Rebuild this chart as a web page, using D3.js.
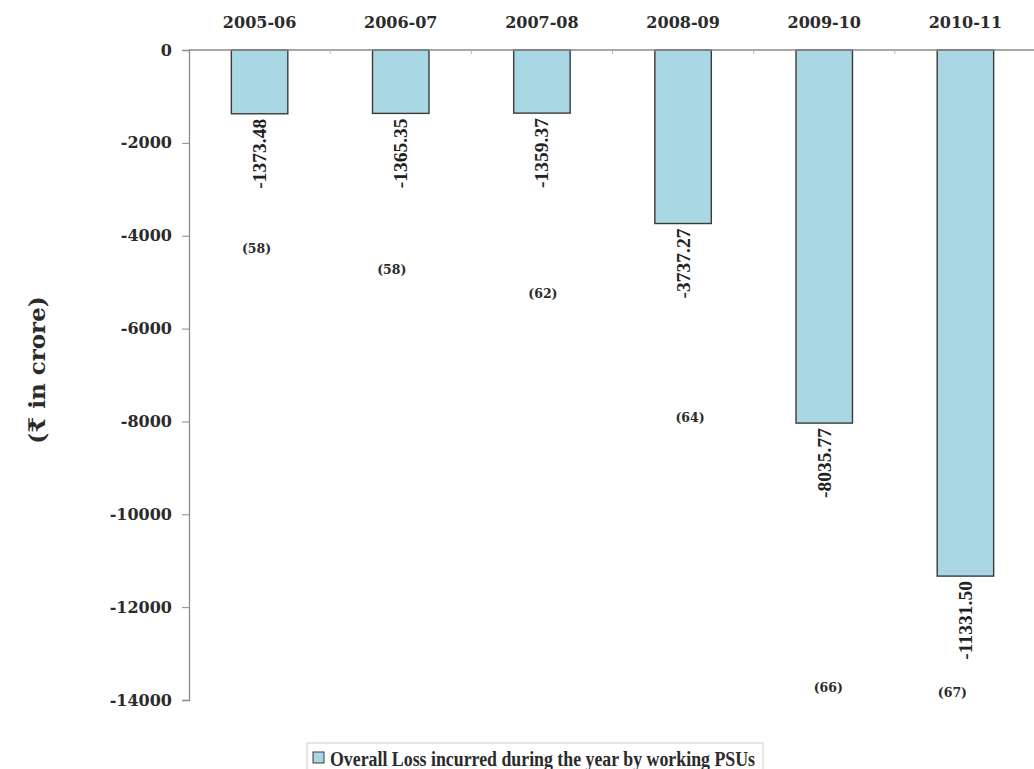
<!DOCTYPE html>
<html>
<head>
<meta charset="utf-8">
<script src="https://cdn.jsdelivr.net/npm/d3@7"></script>
<style>
  html, body { margin: 0; padding: 0; background: #fff; }
  svg { display: block; }
</style>
</head>
<body>
<svg id="chart" width="1034" height="769"></svg>
<script>
// Overall loss of working PSUs by year (₹ in crore)
const years = ["2005-06", "2006-07", "2007-08", "2008-09", "2009-10", "2010-11"];
const losses = [-1373.48, -1365.35, -1359.37, -3737.27, -8035.77, -11331.50];
const psuCounts = [58, 58, 62, 64, 66, 67];
const yTicks = [0, -2000, -4000, -6000, -8000, -10000, -12000, -14000];
const legendLabel = "Overall Loss incurred during the year by working PSUs";
const yTitle = "(₹ in crore)";

// Where each PSU count note sits: depth on the value axis and a small horizontal nudge
const countNoteDepth = [-4286, -4738, -5255, -7926, -13741, -13849];
const countNoteNudge = [-3, -9, 1, 7, 4, -13];

const W = 1034, H = 769;
const plotLeft = 189, plotRight = 1036, plotTop = 50, plotBottom = 700;
const barFill = "#aad7e4";
const axisColor = "#8a8a8a";
const textColor = "#2b2b2b";
const boldSerif = "'DejaVu Serif', serif";
const plainSerif = "'Liberation Serif', 'Times New Roman', serif";

const svg = d3.select("#chart");

const x = d3.scaleBand().domain(years).range([plotLeft, plotRight])
  .paddingInner(0.6).paddingOuter(0.3);
const y = d3.scaleLinear().domain([0, -14000]).range([plotTop, plotBottom]);

// Bars hang down from the zero line
svg.append("g").selectAll("rect")
  .data(years.map((yr, i) => ({ yr, v: losses[i] })))
  .join("rect")
  .attr("x", d => x(d.yr))
  .attr("y", y(0))
  .attr("width", x.bandwidth())
  .attr("height", d => y(d.v) - y(0))
  .attr("fill", barFill)
  .attr("stroke", "#3a3a3a")
  .attr("stroke-width", 1.4);

// Left value axis
const yAxis = svg.append("g")
  .attr("transform", `translate(${plotLeft},0)`)
  .call(d3.axisLeft(y).tickValues(yTicks).tickSize(7).tickPadding(10)
    .tickFormat(d => String(d)));
yAxis.select(".domain").attr("stroke", axisColor).attr("stroke-width", 1.3);
yAxis.selectAll(".tick line").attr("stroke", axisColor);
yAxis.selectAll(".tick text")
  .attr("fill", textColor)
  .style("font-family", boldSerif)
  .style("font-weight", "bold")
  .style("font-size", "16px");

// Category axis along the zero line, labels above
const xAxis = svg.append("g")
  .attr("transform", `translate(0,${plotTop})`)
  .call(d3.axisTop(x).tickSize(0).tickPadding(22));
xAxis.select(".domain").remove();
xAxis.selectAll(".tick text")
  .attr("fill", textColor)
  .style("font-family", boldSerif)
  .style("font-weight", "bold")
  .style("font-size", "16px");

svg.append("line")
  .attr("x1", plotLeft).attr("x2", W)
  .attr("y1", y(0)).attr("y2", y(0))
  .attr("stroke", axisColor).attr("stroke-width", 1.3);

// Small boundary ticks between categories
svg.append("g").selectAll("line")
  .data(d3.range(1, years.length))
  .join("line")
  .attr("x1", k => plotLeft + k * x.step())
  .attr("x2", k => plotLeft + k * x.step())
  .attr("y1", y(0)).attr("y2", y(0) + 4)
  .attr("stroke", "#b5b5b5");

// Vertical value labels under each bar, reading upward toward the bar end
svg.append("g").selectAll("text")
  .data(years.map((yr, i) => ({ yr, v: losses[i] })))
  .join("text")
  .attr("transform", d => `translate(${x(d.yr) + x.bandwidth() / 2},${y(d.v) + 5}) rotate(-90)`)
  .attr("text-anchor", "end")
  .attr("dominant-baseline", "central")
  .attr("fill", "#222")
  .style("font-family", plainSerif)
  .style("font-weight", "bold")
  .style("font-size", "19.5px")
  .text(d => d.v.toFixed(2));

// Number of PSUs for each year
svg.append("g").selectAll("text")
  .data(years.map((yr, i) => ({ yr, n: psuCounts[i], i })))
  .join("text")
  .attr("x", d => x(d.yr) + x.bandwidth() / 2 + countNoteNudge[d.i])
  .attr("y", d => y(countNoteDepth[d.i]))
  .attr("text-anchor", "middle")
  .attr("dominant-baseline", "central")
  .attr("fill", textColor)
  .style("font-family", boldSerif)
  .style("font-weight", "bold")
  .style("font-size", "12.5px")
  .text(d => `(${d.n})`);

// Axis title
svg.append("text")
  .attr("transform", `translate(36,${(plotTop + plotBottom) / 2 - 5}) rotate(-90)`)
  .attr("text-anchor", "middle")
  .attr("dominant-baseline", "central")
  .attr("fill", textColor)
  .style("font-family", boldSerif)
  .style("font-weight", "bold")
  .style("font-size", "23px")
  .text(yTitle);

// Legend
const legend = svg.append("g");
legend.append("rect")
  .attr("x", 307).attr("y", 743).attr("width", 456).attr("height", 40)
  .attr("fill", "#fff").attr("stroke", "#d0d0d0");
legend.append("rect")
  .attr("x", 313).attr("y", 752).attr("width", 11).attr("height", 11)
  .attr("fill", barFill).attr("stroke", "#3a3a3a").attr("stroke-width", 1);
legend.append("text")
  .attr("x", 330).attr("y", 766)
  .attr("fill", textColor)
  .attr("textLength", 425)
  .attr("lengthAdjust", "spacingAndGlyphs")
  .style("font-family", plainSerif)
  .style("font-weight", "bold")
  .style("font-size", "20px")
  .text(legendLabel);
</script>
</body>
</html>
